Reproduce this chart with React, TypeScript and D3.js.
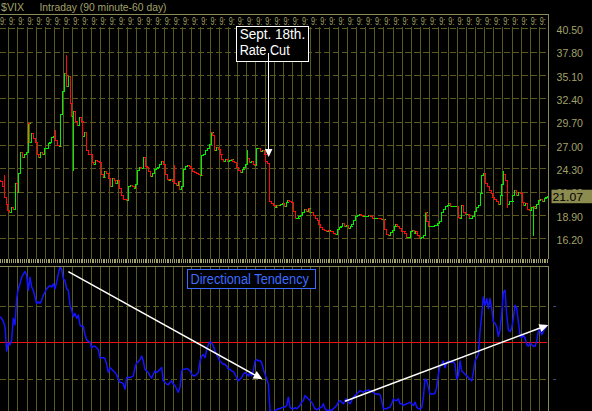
import React from 'react';
import * as d3 from 'd3';

const titleText = '$VIX';
const subtitleText = 'Intraday (90 minute-60 day)';
const indicatorLabel = 'Directional Tendency';
const noteLines = ['Sept. 18th.', 'Rate Cut'];
const timeLabel = '9:';

const priceTicks = [40.5, 37.8, 35.1, 32.4, 29.7, 27.0, 24.3, 21.6, 18.9, 16.2];
const lastPrice = 21.07;
const firstOpen = 23.0;
const barsPerDay = 5;
const dayCount = 60;

// 90-minute closes, five bars per trading day
const closesPart1 = [
  22.8, 22.3, 21.0, 20.2, 19.5,
  19.3, 19.8, 19.6, 22.6, 21.6,
  23.8, 26.2, 25.6, 25.9, 26.2,
  29.5, 27.4, 28.4, 27.8, 27.3,
  26.0, 25.6, 26.2, 25.9, 26.6,
  26.6, 27.2, 27.4, 27.9, 28.0,
  27.6, 27.0, 26.9, 30.6, 33.2,
  35.3, 33.8, 35.0, 31.8, 30.3,
  30.9, 29.8, 29.3, 30.2, 29.8,
  28.0, 28.5, 26.4, 26.0, 25.9,
  25.0, 24.8, 25.3, 25.1, 25.0,
  23.6, 23.3, 24.0, 23.8, 23.2,
  22.3, 23.2, 23.0, 22.6, 23.0,
  22.0, 21.2, 20.8, 20.7, 20.6,
  22.2, 22.4, 22.3, 22.0, 22.5,
  24.1, 24.5, 24.3, 25.6, 24.6,
  24.4, 24.0, 23.4, 23.8, 24.2,
  24.3, 24.5, 24.8, 25.2, 24.8,
  23.6, 23.1, 22.9, 23.1, 22.8,
  22.6, 22.4, 22.8, 21.9, 22.3,
];
const closesPart2 = [
  24.2, 24.6, 24.7, 24.6, 24.3,
  24.0, 23.9, 23.7, 23.6, 23.5,
  25.8, 25.9, 26.4, 26.6, 27.1,
  28.5, 28.2, 26.4, 26.8, 26.5,
  25.9, 25.4, 25.2, 25.4, 25.1,
  25.3, 25.4, 25.1, 25.0, 24.5,
  24.1, 23.9, 24.2, 24.5, 24.8,
  25.5, 25.0, 25.2, 24.8, 24.7,
  26.6, 26.7, 26.3, 26.4, 26.0,
  25.2, 24.9, 20.5, 20.3, 20.0,
  19.8, 20.1, 20.0, 20.2, 20.3,
  19.9, 20.4, 20.6, 20.5, 20.4,
  19.4, 18.6, 18.6, 18.8, 18.9,
  19.2, 19.6, 19.4, 19.7, 19.2,
  19.2, 18.9, 18.6, 18.3, 17.9,
  17.5, 17.3, 17.2, 17.1, 17.2,
  17.1, 17.0, 16.8, 16.7, 17.3,
  17.5, 17.6, 18.0, 17.6, 17.7,
  17.4, 17.6, 17.9, 18.3, 18.8,
  18.9, 19.0, 18.9, 18.8, 18.8,
];
const closesPart3 = [
  18.8, 18.9, 18.8, 18.6, 18.5,
  18.5, 18.6, 18.5, 18.4, 18.4,
  17.3, 16.7, 16.6, 16.9, 17.2,
  17.6, 17.8, 17.6, 17.4, 17.1,
  17.0, 16.8, 16.4, 16.4, 17.0,
  17.2, 16.8, 17.1, 16.6, 16.2,
  16.3, 16.6, 19.2, 18.2, 17.6,
  17.6, 17.6, 17.7, 17.7, 18.0,
  18.2, 19.3, 19.6, 19.9, 20.1,
  20.3, 19.9, 19.9, 19.9, 19.9,
  18.7, 18.6, 20.0, 19.3, 19.0,
  19.0, 18.6, 18.6, 18.8, 19.4,
  19.8, 20.0, 21.4, 23.5, 23.8,
  22.6, 22.2, 21.8, 21.4, 21.0,
  20.8, 20.5, 20.2, 21.2, 22.5,
  23.6, 23.0, 20.2, 20.5, 20.5,
  21.2, 21.8, 21.2, 21.6, 21.4,
  20.4, 20.0, 20.3, 19.6, 19.5,
  19.8, 19.9, 19.7, 20.2, 20.6,
  20.7, 20.5, 20.9, 21.0, 21.07,
];

// [bar index, extreme]
const wickHighs = [[2, 23.5], [30, 28.7], [36, 37.4], [95, 24.7], [135, 26.4], [275, 24.0]];
const wickLows = [[40, 24.1], [277, 19.8], [291, 16.6]];

// Directional Tendency oscillator (arbitrary units, 0 = red line)
const tendencyPart1 = [
  77, 72, 62, 47, -28, -3, -8, 7, 72, 52, 132, 162, 177, 197, 207, 214, 202, 157, 197, 167,
  157, 137, 117, 122, 117, 127, 142, 152, 162, 167, 172, 167, 177, 162, 182, 207, 227, 222, 192, 187,
  162, 157, 112, 97, 77, 87, 72, 82, 52, 47, 47, 22, 7, 2, 0, -18, -13, -13, -18, -23,
  -48, -48, -48, -50, -68, -93, -78, -83, -88, -93, -100, -113, -123, -123, -128, -143, -108, -108, -108, -106,
  -103, -78, -63, -60, -53, -43, -58, -83, -88, -93, -103, -110, -98, -88, -93, -88, -83, -78, -118, -123,
  -128, -130, -123, -118, -128, -133, -143, -153, -138, -88, -83, -83, -80, -83, -88, -98, -103, -103, -98, -93,
];
const tendencyPart2 = [
  -58, -43, -38, -48, -23, -8, 0, -3, -13, -28, -38, -48, -58, -63, -68, -68, -73, -83, -83, -88,
  -90, -98, -108, -118, -113, -108, -98, -93, -98, -103, -93, -103, -88, -58, -53, -58, -56, -63, -83, -98,
  -113, -128, -208, -213, -213, -208, -206, -203, -203, -200, -198, -198, -193, -168, -198, -203, -203, -200, -203, -198,
  -193, -183, -178, -163, -168, -173, -178, -183, -193, -203, -206, -203, -200, -198, -188, -203, -208, -208, -206, -208,
  -203, -198, -193, -183, -178, -183, -188, -178, -173, -183, -188, -178, -168, -163, -158, -153, -148, -150, -153, -148,
  -148, -146, -148, -150, -153, -158, -158, -158, -160, -178, -203, -203, -203, -200, -198, -188, -173, -178, -178, -173,
];
const tendencyPart3 = [
  -188, -188, -193, -190, -188, -186, -183, -188, -193, -183, -198, -203, -203, -200, -168, -113, -118, -138, -158, -158,
  -158, -156, -138, -98, -73, -68, -58, -78, -63, -58, -60, -63, -58, -68, -113, -103, -58, -88, -93, -98,
  -103, -108, -113, -118, -93, -58, -48, -38, 32, 82, 137, 112, 132, 102, 132, 102, 62, 57, 47, 17,
  37, 87, 152, 157, 82, 37, 32, 42, 72, 112, 102, 62, 22, 12, 22, 12, -8, -13, -3, -8,
  -13, -13, 2, 32, 37, 22, 32, 42, 47,
];
const tendencyGuides = [111, -111];

const noteAnchor = { bar: 147, price: 25.6 };
const trendArrows = [
  { from: [41, 214], to: [157.5, -113] },
  { from: [207, -180], to: [329, 52] },
];

const W = 592;
const H = 411;
const PLOT_R = 548.15;
const TOP_Y0 = 27;
const TOP_Y1 = 259;
const BOT_Y0 = 266;

const C = {
  bg: '#000000',
  grid: '#5a5a1e',
  frame: '#8a8a56',
  text: '#a2a26a',
  up: '#00f000',
  down: '#ff0a0a',
  blue: '#1414ff',
  legend: '#3c6cff',
  zero: '#ee1111',
  white: '#ffffff',
  priceBox: '#8c8c50',
};
const FONT = '"Liberation Sans", Arial, sans-serif';

function arrowHead(x1: number, y1: number, x2: number, y2: number, len: number, half: number) {
  const dx = x2 - x1;
  const dy = y2 - y1;
  const d = Math.hypot(dx, dy);
  const ux = dx / d;
  const uy = dy / d;
  const bx = x2 - ux * len;
  const by = y2 - uy * len;
  return `M${x2},${y2}L${bx - uy * half},${by + ux * half}L${bx + uy * half},${by - ux * half}Z`;
}

export default function App() {
  const closes = [...closesPart1, ...closesPart2, ...closesPart3];
  const tendency = [...tendencyPart1, ...tendencyPart2, ...tendencyPart3];
  const nBars = dayCount * barsPerDay;

  const x = d3.scaleLinear().domain([0, nBars]).range([-0.85, PLOT_R]);
  const y = d3.scaleLinear().domain([16.2, 40.5]).range([238.3, 28.3]);
  const ix = d3.scaleLinear().domain([0, tendency.length - 1]).range([0, 546.7]);
  const iy = d3.scaleLinear().domain([-111, 111]).range([378.5, 305.5]);

  const px = (v: number) => Math.round(v) + 0.5;

  const dayLines = d3.range(1, dayCount).map((k) => px(x(k * barsPerDay)));
  const labelXs = d3.range(0, dayCount).map((k) => x(k * barsPerDay) + 0.8);

  const bars = closes.map((c, i) => {
    const o = i === 0 ? firstOpen : closes[i - 1];
    let h = Math.max(o, c);
    let l = Math.min(o, c);
    wickHighs.forEach(([j, v]) => { if (j === i) h = Math.max(h, v); });
    wickLows.forEach(([j, v]) => { if (j === i) l = Math.min(l, v); });
    const cx = px(x(i + 0.5));
    const yh = Math.round(y(h));
    const yl = Math.round(y(l)) + 1;
    const yo = px(y(o));
    const yc = px(y(c));
    const d = `M${cx},${yh}V${yl}M${cx - 2},${yo}H${cx}M${cx},${yc}H${cx + 2}`;
    return { d, up: c >= o, key: i };
  });

  const tickXs = d3.range(nBars).map((i) => px(x(i + 0.5)));

  const indLine = d3.line<number>().x((_, i) => ix(i)).y((v) => iy(v)).curve(d3.curveLinear)(tendency) || '';

  const noteX = x(noteAnchor.bar);
  const noteTipY = y(noteAnchor.price);
  const boxX0 = noteX - 32;
  const boxX1 = noteX + 39.5;

  const lastY = y(lastPrice);

  return (
    <svg width={W} height={H} style={{ position: 'absolute', left: 0, top: 0, background: C.bg, display: 'block' }}>
      <defs>
        <clipPath id="botClip"><rect x={0} y={BOT_Y0 + 1} width={PLOT_R} height={H - BOT_Y0} /></clipPath>
        <clipPath id="topClip"><rect x={0} y={TOP_Y0} width={PLOT_R} height={TOP_Y1 - TOP_Y0} /></clipPath>
        <clipPath id="labelClip"><rect x={0} y={14} width={PLOT_R} height={14} /></clipPath>
      </defs>
      <rect x={0} y={0} width={W} height={H} fill={C.bg} />

      {/* title */}
      <text x={1} y={11} fontFamily={FONT} fontSize={11} fill={C.text} textLength={23} lengthAdjust="spacingAndGlyphs">{titleText}</text>
      <text x={39.5} y={11} fontFamily={FONT} fontSize={11} fill={C.text} textLength={127} lengthAdjust="spacingAndGlyphs">{subtitleText}</text>

      {/* top frame */}
      <line x1={0} x2={px(PLOT_R)} y1={14.5} y2={14.5} stroke={C.frame} shapeRendering="crispEdges" />
      <line x1={px(PLOT_R)} x2={px(PLOT_R)} y1={14.5} y2={TOP_Y1} stroke={C.frame} shapeRendering="crispEdges" />

      {/* time labels */}
      <g clipPath="url(#labelClip)">
        {labelXs.map((lx, k) => (
          <text key={k} x={lx} y={25} fontFamily={FONT} fontSize={10} fill={C.text} textLength={6} lengthAdjust="spacingAndGlyphs">{timeLabel}</text>
        ))}
      </g>

      {/* top grid */}
      <g shapeRendering="crispEdges">
        {dayLines.map((lx, k) => (
          <line key={k} x1={lx} x2={lx} y1={TOP_Y0} y2={TOP_Y1} stroke={C.grid} />
        ))}
        {priceTicks.map((v) => (
          <line key={v} x1={0} x2={PLOT_R - 1} y1={px(y(v))} y2={px(y(v))} stroke={C.grid} strokeDasharray="6,3" />
        ))}
      </g>

      {/* price bars */}
      <g clipPath="url(#topClip)" shapeRendering="crispEdges" fill="none">
        {bars.map((b) => (
          <path key={b.key} d={b.d} stroke={b.up ? C.up : C.down} strokeWidth={1} />
        ))}
      </g>

      {/* price axis */}
      {priceTicks.map((v) => (
        <text key={v} x={556.5} y={y(v) + 5.7} fontFamily={FONT} fontSize={11} fill={C.text} textLength={26.5} lengthAdjust="spacingAndGlyphs">{v.toFixed(2)}</text>
      ))}
      <rect x={551.5} y={lastY - 6.5} width={41} height={13.5} fill={C.priceBox} />
      <text x={552.5} y={lastY + 4.8} fontFamily={FONT} fontSize={11} fill="#000" textLength={30.5} lengthAdjust="spacingAndGlyphs">{lastPrice.toFixed(2)}</text>

      {/* time ticks between panels */}
      <g shapeRendering="crispEdges">
        {tickXs.map((tx, i) => (
          <line key={i} x1={tx} x2={tx} y1={259} y2={263} stroke={C.text} />
        ))}
      </g>

      {/* annotation */}
      <rect x={px(boxX0)} y={26.5} width={Math.round(boxX1 - boxX0)} height={35} fill={C.bg} stroke={C.white} shapeRendering="crispEdges" />
      <text x={boxX0 + 3.5} y={38.8} fontFamily={FONT} fontSize={14} fill={C.white} textLength={65.5} lengthAdjust="spacingAndGlyphs">{noteLines[0]}</text>
      <text x={boxX0 + 3.5} y={55} fontFamily={FONT} fontSize={14} fill={C.white} textLength={50} lengthAdjust="spacingAndGlyphs">{noteLines[1]}</text>
      <line x1={px(noteX)} x2={px(noteX)} y1={53} y2={noteTipY - 6} stroke={C.white} strokeWidth={1} shapeRendering="crispEdges" />
      <path d={arrowHead(noteX + 0.5, 50, noteX + 0.5, noteTipY, 8, 3.8)} fill={C.white} />

      {/* bottom panel frame & grid */}
      <line x1={0} x2={px(PLOT_R)} y1={BOT_Y0 + 0.5} y2={BOT_Y0 + 0.5} stroke={C.frame} shapeRendering="crispEdges" />
      <line x1={px(PLOT_R)} x2={px(PLOT_R)} y1={BOT_Y0} y2={H} stroke={C.frame} shapeRendering="crispEdges" />
      <g shapeRendering="crispEdges">
        {dayLines.map((lx, k) => (
          <line key={k} x1={lx} x2={lx} y1={BOT_Y0 + 1} y2={H} stroke={C.grid} />
        ))}
        {tendencyGuides.map((v) => (
          <line key={v} x1={0} x2={PLOT_R - 1} y1={px(iy(v))} y2={px(iy(v))} stroke={C.grid} strokeDasharray="6,3" />
        ))}
        {tendencyGuides.map((v) => (
          <line key={'t' + v} x1={553} x2={556} y1={px(iy(v))} y2={px(iy(v))} stroke="#33508c" />
        ))}
      </g>
      <line x1={0} x2={PLOT_R - 1} y1={px(iy(0))} y2={px(iy(0))} stroke={C.zero} shapeRendering="crispEdges" />

      <g clipPath="url(#botClip)">
        <path d={indLine} fill="none" stroke={C.blue} strokeWidth={1.5} strokeLinejoin="round" />
        {trendArrows.map((a, k) => {
          const x1 = ix(a.from[0]);
          const y1 = iy(a.from[1]);
          const x2 = ix(a.to[0]);
          const y2 = iy(a.to[1]);
          const d = Math.hypot(x2 - x1, y2 - y1);
          const ex = x2 - ((x2 - x1) / d) * 6;
          const ey = y2 - ((y2 - y1) / d) * 6;
          return (
            <g key={k}>
              <line x1={x1} y1={y1} x2={ex} y2={ey} stroke={C.white} strokeWidth={1.5} />
              <path d={arrowHead(x1, y1, x2, y2, 9, 4.2)} fill={C.white} />
            </g>
          );
        })}
      </g>

      {/* legend */}
      <rect x={187.5} y={269.5} width={128} height={19} fill={C.bg} stroke={C.legend} shapeRendering="crispEdges" />
      <text x={190.5} y={284} fontFamily={FONT} fontSize={14} fill={C.legend} textLength={118.5} lengthAdjust="spacingAndGlyphs">{indicatorLabel}</text>
    </svg>
  );
}
